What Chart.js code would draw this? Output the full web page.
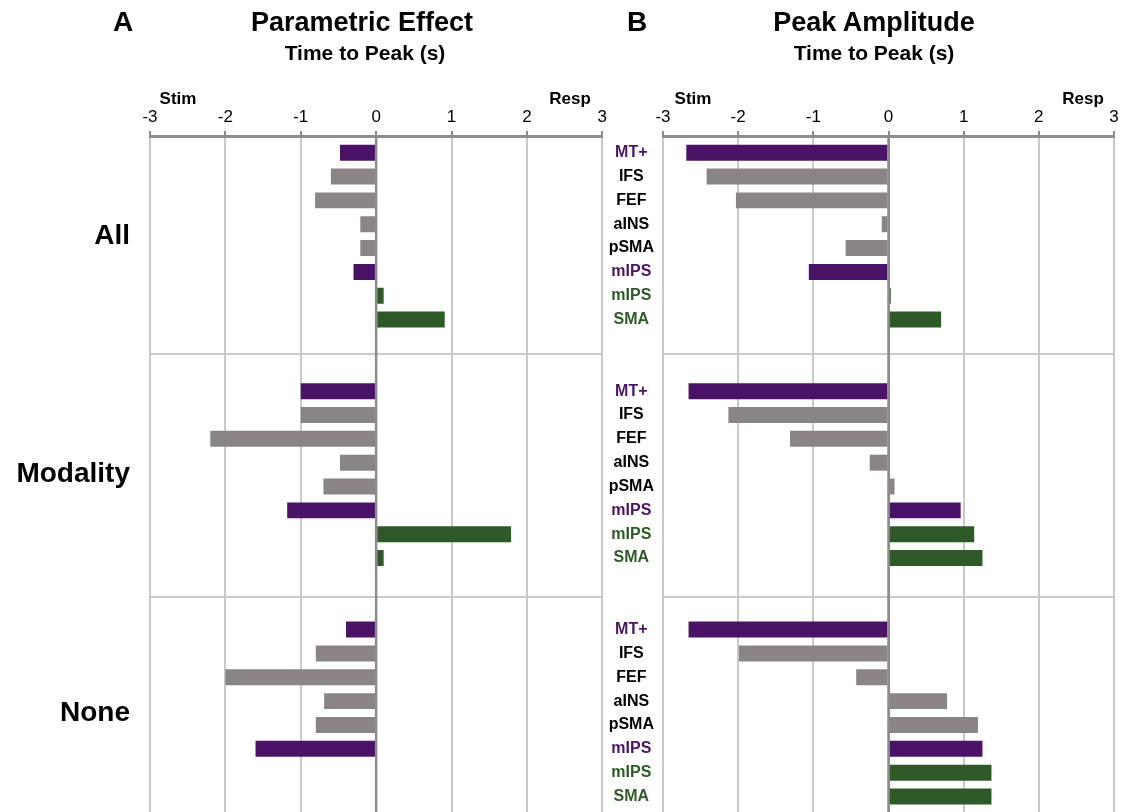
<!DOCTYPE html>
<html>
<head>
<meta charset="utf-8">
<script src="https://cdn.jsdelivr.net/npm/chart.js@4/dist/chart.umd.min.js"></script>
<style>
html,body{margin:0;padding:0;background:#fff;width:1126px;height:812px;overflow:hidden;font-family:"Liberation Sans",Arial,Helvetica,sans-serif;}
.t{position:absolute;font-weight:bold;white-space:nowrap;line-height:1;color:#000;}
.c{transform:translateX(-50%);}
#wrapA{position:absolute;left:0;top:0;width:610px;height:812px;}
#wrapB{position:absolute;left:605px;top:0;width:521px;height:812px;}
</style>
</head>
<body>
<div id="wrapA"><canvas id="cA"></canvas></div>
<div id="wrapB"><canvas id="cB"></canvas></div>

<div class="t" style="left:113px;top:8px;font-size:28px">A</div>
<div class="t c" style="left:362px;top:9px;font-size:27px">Parametric Effect</div>
<div class="t c" style="left:365px;top:42px;font-size:21px">Time to Peak (s)</div>
<div class="t c" style="left:178px;top:90px;font-size:17px">Stim</div>
<div class="t c" style="left:570px;top:90px;font-size:17px">Resp</div>

<div class="t" style="left:627px;top:8px;font-size:28px">B</div>
<div class="t c" style="left:874px;top:9px;font-size:27px">Peak Amplitude</div>
<div class="t c" style="left:874px;top:42px;font-size:21px">Time to Peak (s)</div>
<div class="t c" style="left:693px;top:90px;font-size:17px">Stim</div>
<div class="t c" style="left:1083px;top:90px;font-size:17px">Resp</div>

<script>
// ---------- data ----------
const groups = ['All', 'Modality', 'None'];
const regions = ['MT+', 'IFS', 'FEF', 'aINS', 'pSMA', 'mIPS', 'mIPS', 'SMA'];
const regionNetwork = ['sensory', 'control', 'control', 'control', 'control', 'sensory', 'motor', 'motor'];
const xTicks = [-3, -2, -1, 0, 1, 2, 3];

// Panel A: Parametric Effect, time to peak (s)
const paramAll      = [-0.48, -0.60, -0.81, -0.21, -0.21, -0.30, 0.10, 0.91];
const paramModality = [-1.00, -1.00, -2.20, -0.48, -0.70, -1.18, 1.79, 0.10];
const paramNone     = [-0.40, -0.80, -2.00, -0.69, -0.80, -1.60, 0.00, 0.00];

// Panel B: Peak Amplitude, time to peak (s)
const ampAll      = [-2.69, -2.42, -2.03, -0.09, -0.57, -1.06, 0.03, 0.70];
const ampModality = [-2.66, -2.13, -1.31, -0.25, 0.08, 0.96, 1.14, 1.25];
const ampNone     = [-2.66, -1.99, -0.43, 0.78, 1.19, 1.25, 1.37, 1.37];

// ---------- layout / style ----------
const GROUP_STRIDE = 10;            // slots per group (8 bars + 2 empty)
const Y_MIN = -0.7, Y_MAX = 27.65;
const groupSeparators = [8.45, 18.65];
const FONT = '"Liberation Sans", Arial, Helvetica, sans-serif';
const networkColor = { sensory: '#4b1367', control: '#898584', motor: '#2d5a27' };
const labelColor   = { sensory: '#4b1367', control: '#000000', motor: '#2d5a27' };
const GRID = '#c9c9c9';
const AXIS = '#8c8c8c';

function buildPoints(seriesList) {
  const pts = [];
  seriesList.forEach((vals, g) => vals.forEach((v, r) => pts.push({ x: v, y: g * GROUP_STRIDE + r })));
  return pts;
}
function barColors() {
  const c = [];
  groups.forEach(() => regionNetwork.forEach(n => c.push(networkColor[n])));
  return c;
}
const isSep = v => groupSeparators.some(s => Math.abs(s - v) < 1e-6);
const noPad = s => { s.paddingTop = 0; s.paddingBottom = 0; s.paddingLeft = 0; s.paddingRight = 0; };

const zeroLine = {
  id: 'zeroLine',
  afterDatasetsDraw(chart) {
    const { ctx, chartArea, scales } = chart;
    const x0 = scales.x.getPixelForValue(0);
    ctx.save();
    ctx.strokeStyle = AXIS;
    ctx.lineWidth = 2.5;
    ctx.beginPath();
    ctx.moveTo(x0, chartArea.top);
    ctx.lineTo(x0, chartArea.bottom);
    ctx.stroke();
    ctx.restore();
  }
};

function makeChart(canvasId, seriesList, yAxis, padRight) {
  return new Chart(document.getElementById(canvasId), {
    type: 'bar',
    data: {
      datasets: [{
        data: buildPoints(seriesList),
        backgroundColor: barColors(),
        borderWidth: 0,
        categoryPercentage: 1,
        barPercentage: 0.67
      }]
    },
    options: {
      indexAxis: 'y',
      responsive: true,
      maintainAspectRatio: false,
      animation: false,
      layout: { padding: { top: 70, left: 0, right: padRight, bottom: 0 } },
      plugins: { legend: { display: false }, tooltip: { enabled: false } },
      scales: {
        x: {
          type: 'linear',
          position: 'top',
          min: xTicks[0], max: xTicks[xTicks.length - 1],
          afterBuildTicks: s => { s.ticks = xTicks.map(v => ({ value: v })); },
          afterFit: s => { s.height = 66; },
          ticks: { color: '#000', font: { family: FONT, size: 17 }, padding: 3, maxRotation: 0, autoSkip: false },
          grid: {
            color: c => (c.tick && c.tick.value === 0) ? AXIS : GRID,
            lineWidth: 2, tickLength: 5, tickColor: AXIS, tickWidth: 2
          },
          border: { color: AXIS, width: 3 }
        },
        y: yAxis
      }
    },
    plugins: [zeroLine]
  });
}

// Panel A y-axis: group labels + separators
const yA = {
  type: 'linear', reverse: true, min: Y_MIN, max: Y_MAX, offset: false,
  afterBuildTicks: s => {
    const t = groups.map((g, i) => i * GROUP_STRIDE + (regions.length - 1) / 2).concat(groupSeparators);
    s.ticks = t.sort((a, b) => a - b).map(v => ({ value: v }));
  },
  afterFit: s => { s.width = 150; noPad(s); },
  ticks: {
    autoSkip: false, crossAlign: 'near', padding: 20, color: '#000',
    font: { family: FONT, size: 28, weight: 'bold' },
    callback: v => {
      if (isSep(v)) return '';
      const g = Math.round((v - (regions.length - 1) / 2) / GROUP_STRIDE);
      return groups[g];
    }
  },
  grid: { offset: false, drawTicks: false, lineWidth: 2, color: c => (c.tick && isSep(c.tick.value)) ? GRID : 'rgba(0,0,0,0)' },
  border: { display: false }
};

// Panel B y-axis: region labels + separators
const yB = {
  type: 'linear', reverse: true, min: Y_MIN, max: Y_MAX, offset: false,
  afterBuildTicks: s => {
    const t = [];
    groups.forEach((g, gi) => regions.forEach((r, ri) => t.push(gi * GROUP_STRIDE + ri)));
    s.ticks = t.concat(groupSeparators).sort((a, b) => a - b).map(v => ({ value: v }));
  },
  afterFit: s => { s.width = 58; noPad(s); },
  ticks: {
    autoSkip: false, crossAlign: 'center', padding: 9,
    font: { family: FONT, size: 16, weight: 'bold' },
    color: c => {
      const v = c.tick ? c.tick.value : 0;
      if (isSep(v)) return '#000';
      return labelColor[regionNetwork[((v % GROUP_STRIDE) + GROUP_STRIDE) % GROUP_STRIDE]];
    },
    callback: v => isSep(v) ? '' : regions[v % GROUP_STRIDE]
  },
  grid: { offset: false, drawTicks: false, lineWidth: 2, color: c => (c.tick && isSep(c.tick.value)) ? GRID : 'rgba(0,0,0,0)' },
  border: { display: false }
};

makeChart('cA', [paramAll, paramModality, paramNone], yA, 6.5);
makeChart('cB', [ampAll, ampModality, ampNone], yB, 12);
</script>
</body>
</html>
